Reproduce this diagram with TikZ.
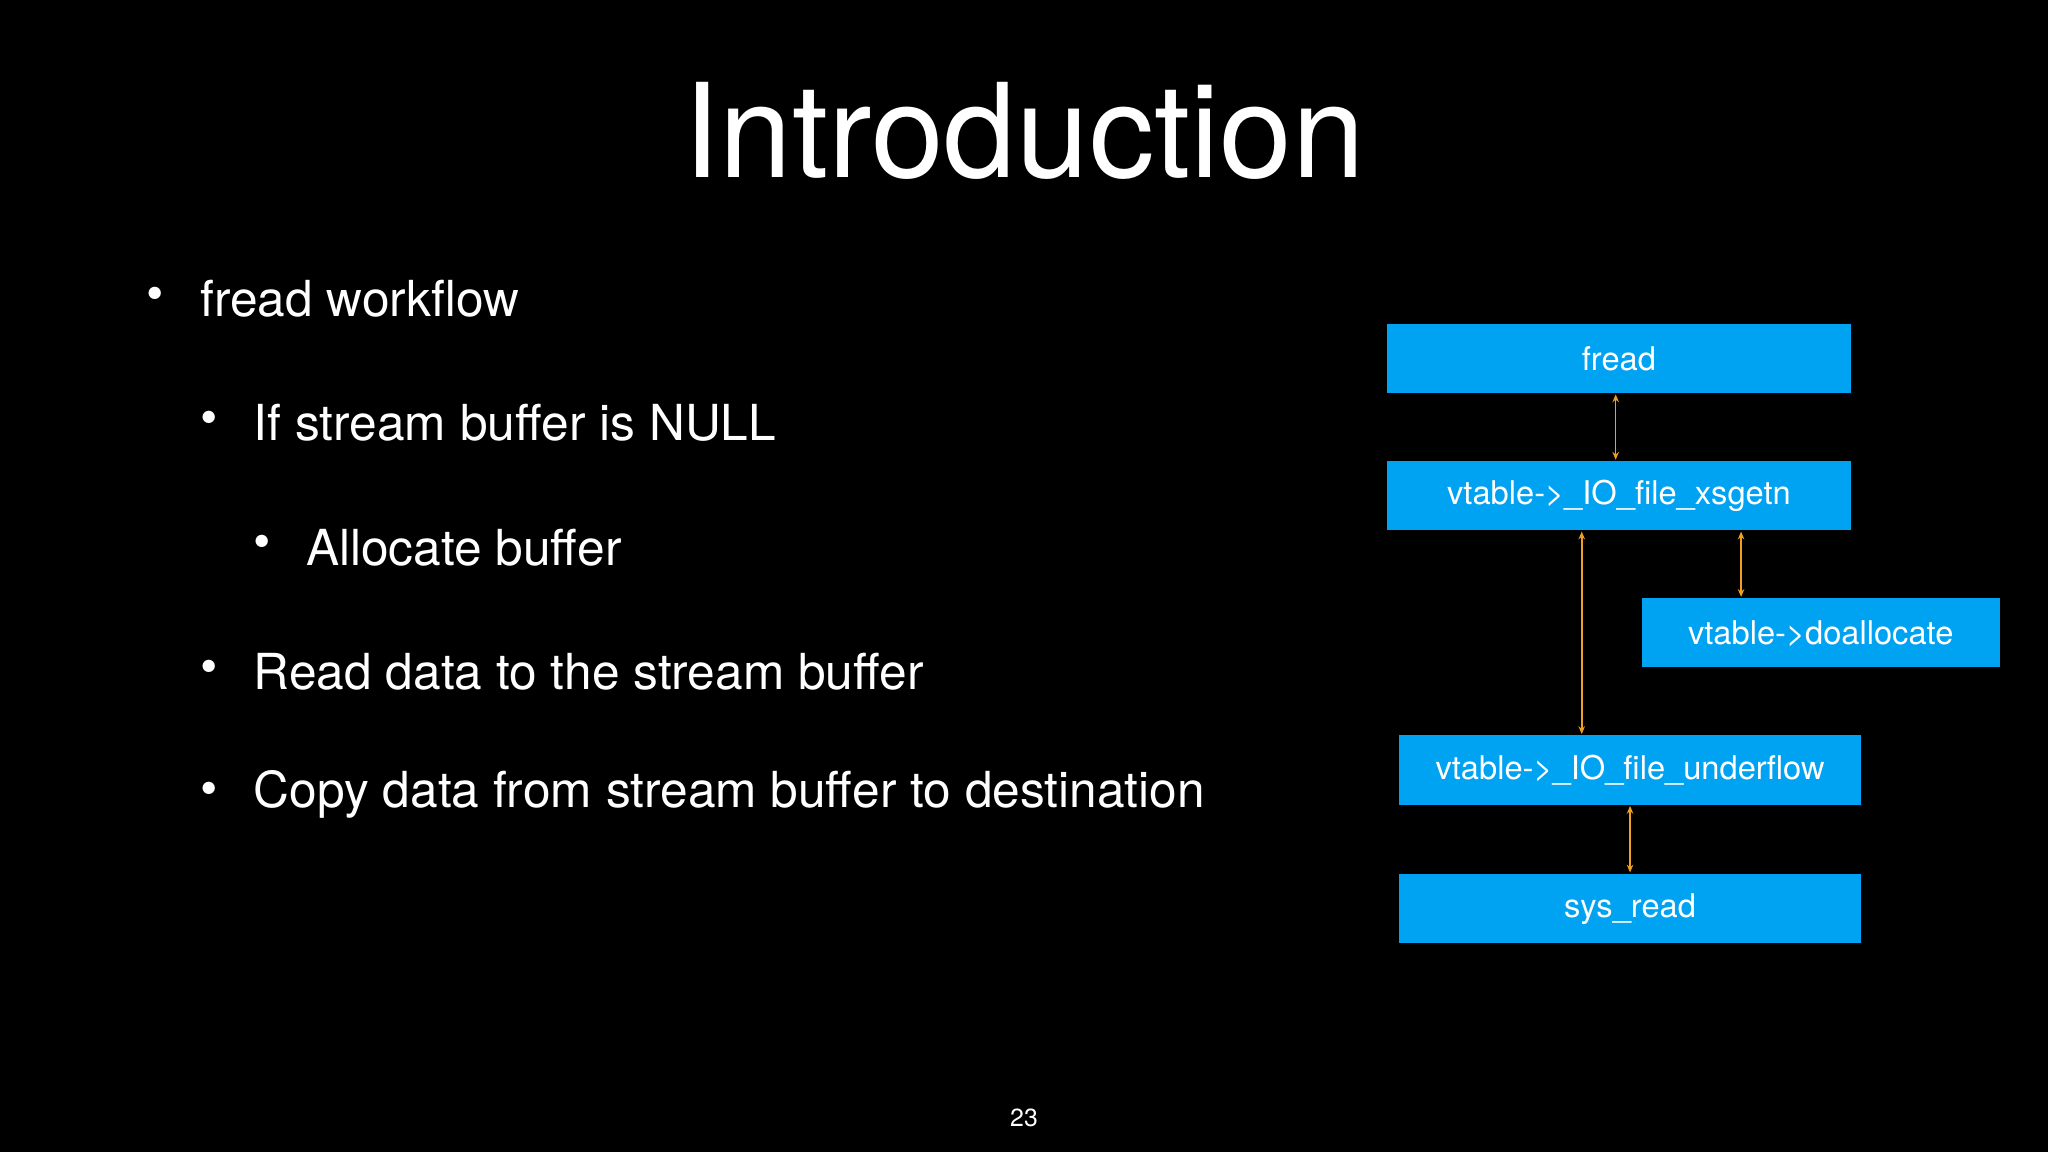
\documentclass[tikz,border=0pt]{standalone}
\usepackage{fontspec}
\setmainfont{TeX Gyre Heros}
\usetikzlibrary{arrows.meta}
\begin{document}
\begin{tikzpicture}[x=0.5pt,y=-0.5pt,
  bl/.style={text=white,font=\fontsize{12.5}{14}\selectfont},
  conn/.style={draw=arrorange,line width=0.6pt,{Stealth[length=3pt,width=2.5pt]}-{Stealth[length=3pt,width=2.5pt]}},
  bt/.style={text=white,anchor=west,inner sep=0pt,font=\fontsize{19}{22}\selectfont}]
\definecolor{boxblue}{HTML}{00A2F2}
\definecolor{arrorange}{HTML}{F0A020}
\fill[black] (0,0) rectangle (1568,882);
\useasboundingbox (0,0) rectangle (1568,882);
\node[text=white,font=\fontsize{50}{56}\selectfont] (title) at (784,100) {Introduction};
\node[bt] (b1) at (112,229) {•}; \node[bt] (t1) at (153,229) {fread workflow};
\node[bt] (b2) at (153,324) {•}; \node[bt] (t2) at (194,324) {If stream buffer is NULL};
\node[bt] (b3) at (194,419) {•}; \node[bt] (t3) at (234,419) {Allocate buffer};
\node[bt] (b4) at (153,514) {•}; \node[bt] (t4) at (194,514) {Read data to the stream buffer};
\node[bt] (b5) at (153,608) {•}; \node[bt] (t5) at (194,608) {Copy data from stream buffer to destination};
\fill[boxblue] (1062,248) rectangle (1417,301); \node[bl] (fread) at (1239.5,275) {fread};
\fill[boxblue] (1062,353) rectangle (1417,406); \node[bl] (xs) at (1239.5,380) {vtable->\_IO\_file\_xsgetn};
\fill[boxblue] (1257,458) rectangle (1531,511); \node[bl] (da) at (1394,485) {vtable->doallocate};
\fill[boxblue] (1071,563) rectangle (1425,616); \node[bl] (uf) at (1248,590) {vtable->\_IO\_file\_underflow};
\fill[boxblue] (1071,669) rectangle (1425,722); \node[bl] (sr) at (1248,696) {sys\_read};
\coordinate (a1) at (1237,302); \coordinate (a2) at (1237,352);
\coordinate (c1) at (1333,407); \coordinate (c2) at (1333,457);
\coordinate (d1) at (1211,407); \coordinate (d2) at (1211,562);
\coordinate (e1) at (1248,617); \coordinate (e2) at (1248,668);
\draw[conn] (a1) -- (a2);
\draw[conn] (c1) -- (c2);
\draw[conn] (d1) -- (d2);
\draw[conn] (e1) -- (e2);
\node[text=white,font=\fontsize{9.5}{11}\selectfont] (pg) at (784,856) {23};
\end{tikzpicture}
\end{document}
